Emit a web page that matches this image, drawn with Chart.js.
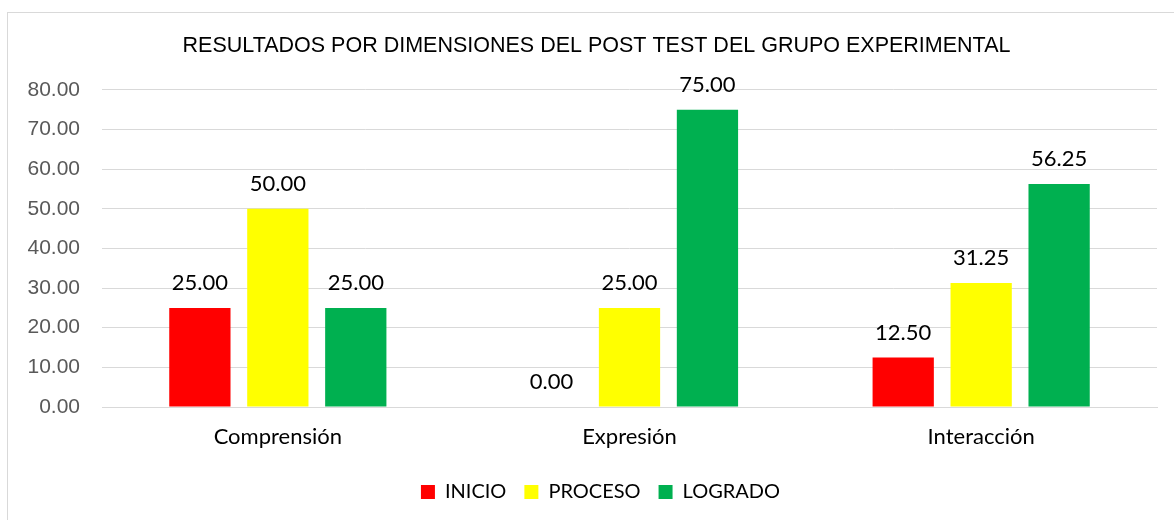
<!DOCTYPE html>
<html>
<head>
<meta charset="utf-8">
<script src="https://cdn.jsdelivr.net/npm/chart.js@4/dist/chart.umd.min.js"></script>
<style>
  html, body { margin: 0; padding: 0; background: #ffffff; }
  #wrap { position: relative; width: 1174px; height: 520px; overflow: hidden; }
  #frame { position: absolute; left: 7px; top: 12px; width: 1200px; height: 600px;
           border-left: 1px solid #d9d9d9; border-top: 1px solid #d9d9d9; box-sizing: border-box; }
  canvas { position: absolute; left: 0; top: 0; }
</style>
</head>
<body>
<div id="wrap">
  <div id="frame"></div>
  <canvas id="c" width="1174" height="520"></canvas>
</div>
<script>
const categories = ["Comprensión", "Expresión", "Interacción"];
const seriesNames = ["INICIO", "PROCESO", "LOGRADO"];
const inicio = [25.00, 0.00, 12.50];
const proceso = [50.00, 25.00, 31.25];
const logrado = [25.00, 75.00, 56.25];
const seriesColors = ["#ff0000", "#ffff00", "#00b050"];
const yTicks = [0, 10, 20, 30, 40, 50, 60, 70, 80];
const titleText = "RESULTADOS POR DIMENSIONES DEL POST TEST DEL GRUPO EXPERIMENTAL";

const seriesValues = [inicio, proceso, logrado];
const labelFontFamily = "Lato, 'Open Sans', sans-serif";

const valueLabels = {
  id: 'valueLabels',
  afterDatasetsDraw(chart) {
    const ctx = chart.ctx;
    ctx.save();
    ctx.font = "22px " + labelFontFamily;
    ctx.fillStyle = "#000000";
    ctx.textAlign = "center";
    ctx.textBaseline = "middle";
    chart.data.datasets.forEach((ds, di) => {
      const meta = chart.getDatasetMeta(di);
      meta.data.forEach((bar, i) => {
        ctx.fillText(Number(ds.data[i]).toFixed(2), bar.x, bar.y - 25);
      });
    });
    ctx.restore();
  }
};

// Shift title and legend boxes so they are centred like in the reference frame
const shiftBlocks = {
  id: 'shiftBlocks',
  afterLayout(chart) {
    const t = chart.titleBlock;
    if (t) { t.left += 19; t.right += 17; }
    const l = chart.legend;
    if (l) { l.left += 22; l.right += 22; }
  }
};

new Chart(document.getElementById('c'), {
  type: 'bar',
  data: {
    labels: categories,
    datasets: seriesNames.map((name, k) => ({
      label: name,
      data: seriesValues[k],
      backgroundColor: seriesColors[k],
      borderWidth: 0,
      categoryPercentage: 0.665,
      barPercentage: 0.786
    }))
  },
  options: {
    responsive: false,
    animation: false,
    devicePixelRatio: 1,
    layout: { padding: { left: 0, right: 17, top: 0, bottom: 8 } },
    plugins: {
      tooltip: { enabled: false },
      title: {
        display: true,
        text: titleText,
        color: "#000000",
        font: { family: "'Liberation Sans', Arial, sans-serif", size: 21.5, weight: 'normal' },
        padding: { top: 33, bottom: 31 }
      },
      legend: {
        display: true,
        position: 'bottom',
        labels: {
          boxWidth: 14,
          boxHeight: 14,
          padding: 18,
          color: "#000000",
          font: { family: labelFontFamily, size: 20 }
        }
      }
    },
    scales: {
      x: {
        grid: { display: false },
        border: { display: true, color: "#d9d9d9", width: 1 },
        ticks: { color: "#000000", font: { family: labelFontFamily, size: 22 }, padding: 9 },
        afterFit(scale) { scale.height = 57; }
      },
      y: {
        min: 0,
        max: 80,
        afterBuildTicks(scale) { scale.ticks = yTicks.map(v => ({ value: v })); },
        grid: { color: "#d9d9d9", lineWidth: 1, drawTicks: false },
        border: { display: false },
        ticks: {
          color: "#595959",
          padding: 22,
          font: { family: "'Liberation Sans', Arial, sans-serif", size: 21 },
          callback: (v) => Number(v).toFixed(2)
        },
        afterFit(scale) { scale.width = 102; }
      }
    }
  },
  plugins: [valueLabels, shiftBlocks]
});
</script>
</body>
</html>
